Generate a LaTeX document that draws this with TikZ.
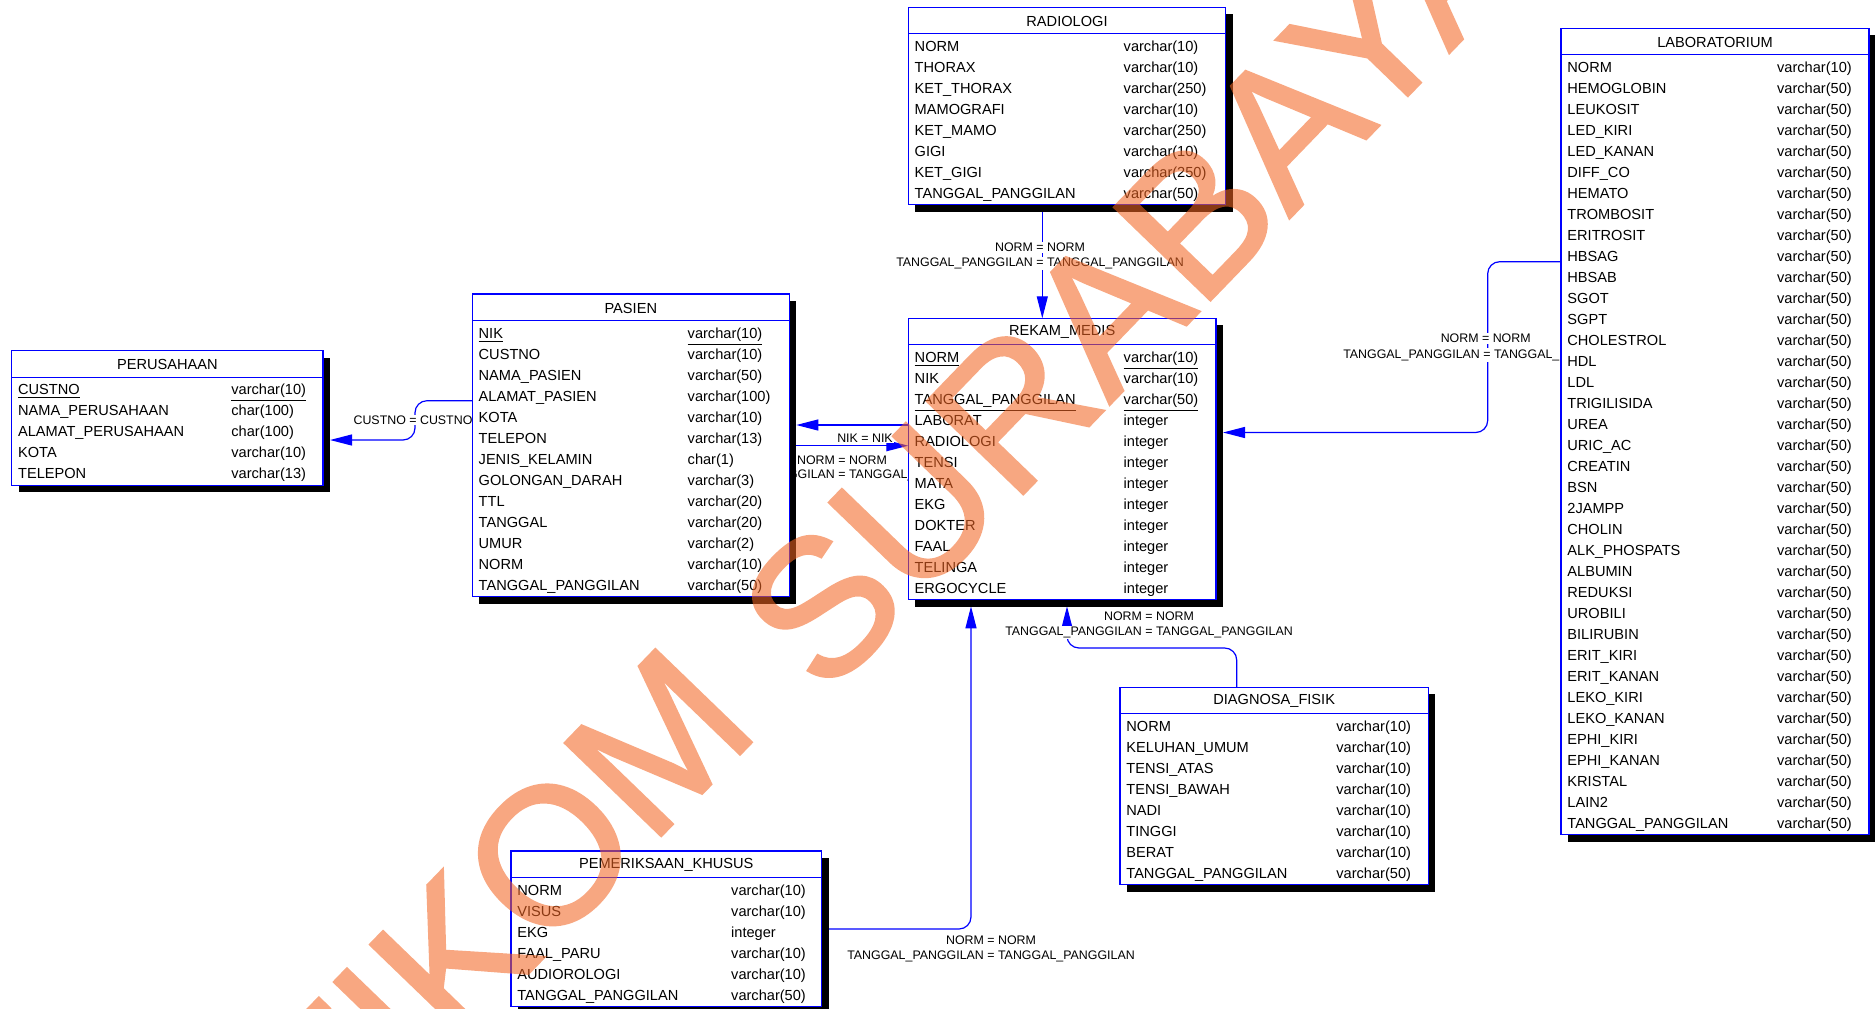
\documentclass[tikz,border=0pt]{standalone}
\usepackage{fontspec}
\setmainfont{Liberation Sans}
\newfontfamily\wmfont{Liberation Sans}[FakeBold=1.5]
\usetikzlibrary{arrows.meta,shadows,calc}
\definecolor{wm}{RGB}{242,101,34}
\tikzset{
  tbl/.style={draw=blue, line width=0.6pt, fill=white, inner sep=0pt, outer sep=0pt, anchor=north west,
    general shadow={fill=black, shadow xshift=3.5pt, shadow yshift=-3.5pt}},
  cell/.style={inner sep=0pt, anchor=base west, font=\fontsize{7.3}{8}\selectfont},
  ttl/.style={inner sep=0pt, font=\fontsize{7.3}{8}\selectfont},
  conn/.style={draw=blue, line width=0.6pt, rounded corners=6pt},
  arr/.style={-{Triangle[length=11pt,width=5.5pt]}},
  lbl/.style={fill=white, inner sep=0.5pt, font=\fontsize{6.2}{7}\selectfont},
  wmtext/.style={rotate=46, text=wm, inner sep=0pt, font=\wmfont\fontsize{97}{97}\selectfont},
}
% name, left, top, right, col2 x, rows count, title, rows
\newcommand{\ertable}[8]{%
  \node[tbl, minimum width={(#4-#2)*0.5pt}, minimum height={(29.5+21*#6)*0.5pt}] (#1) at (#2,#3) {};
  \draw[blue, line width=0.6pt] ([yshift=-13.25pt]#1.north west) -- ([yshift=-13.25pt]#1.north east);
  \node[ttl] (#1-title) at ([yshift=-7pt]#1.north) {#7};
  \foreach \nm/\ty [count=\i from 0] in {#8} {
    \node[cell] (#1-n\i) at (#2+6, #3+44.2+21*\i) {\nm};
    \node[cell] (#1-t\i) at (#5, #3+44.2+21*\i) {\ty};
  }
}
\begin{document}
\begin{tikzpicture}[x=0.5pt,y=-0.5pt]
\useasboundingbox (0,0) rectangle (1875,1008);

% ---------- connectors (drawn first, tables cover their ends) ----------
\coordinate (pasL) at (472.3,0);
\coordinate (perR) at (323,0);
\coordinate (rekL) at (908.3,0);
\coordinate (pasR) at (789.3,0);
\coordinate (radB) at (0,204.3);
\coordinate (rekT) at (0,318.3);
\coordinate (labL) at (1561,0);
\coordinate (rekR) at (1216,0);
\coordinate (diaT) at (0,687.3);
\coordinate (rekB) at (0,599.3);
\coordinate (pemR) at (821.5,0);

\draw[conn,arr] (pasL |- 0,400.7) -- (415,400.7) -- (415,440) -- ($(perR |- 0,440)+(7,0)$);
\node[lbl] (l1) at (413,420) {CUSTNO = CUSTNO};

\draw[conn,arr] (rekL |- 0,425) -- ($(pasR |- 0,425)+(7,0)$);
\draw[conn,arr] (pasR |- 0,445.7) -- (rekL |- 0,445.7);
\node[lbl] (l2) at (865,438) {NIK = NIK};
\node[lbl] (l3a) at (842,460) {NORM = NORM};
\node[lbl] (l3b) at (842,475) {TANGGAL\_PANGGILAN = TANGGAL\_PANGGILAN};

\draw[conn,arr] (radB -| 1042.3,0) -- (rekT -| 1042.3,0);
\node[lbl] (l4a) at (1040,247.3) {NORM = NORM};
\node[lbl] (l4b) at (1040,263.3) {TANGGAL\_PANGGILAN = TANGGAL\_PANGGILAN};

\draw[conn,arr] (labL |- 0,261.7) -- (1487.7,261.7) -- (1487.7,432.5) -- ($(rekR |- 0,432.5)+(7,0)$);
\node[lbl] (l5a) at (1485.7,338.3) {NORM = NORM};
\node[lbl] (l5b) at (1487,355) {TANGGAL\_PANGGILAN = TANGGAL\_PANGGILAN};

\draw[conn,arr] (diaT -| 1236.7,0) -- (1236.7,648) -- (1067,648) -- ($(rekB -| 1067,0)+(0,7)$);
\node[lbl] (l6a) at (1149,616) {NORM = NORM};
\node[lbl] (l6b) at (1149,632.5) {TANGGAL\_PANGGILAN = TANGGAL\_PANGGILAN};

\draw[conn,arr] (pemR |- 0,929) -- (971,929) -- ($(rekB -| 971,0)+(0,7)$);
\node[lbl] (l7a) at (991,940) {NORM = NORM};
\node[lbl] (l7b) at (991,956.7) {TANGGAL\_PANGGILAN = TANGGAL\_PANGGILAN};

% ---------- tables ----------
\ertable{perusahaan}{11.7}{350.7}{323}{231}{5}{PERUSAHAAN}{%
\underline{CUSTNO}/\underline{varchar(10)},NAMA\_PERUSAHAAN/char(100),ALAMAT\_PERUSAHAAN/char(100),KOTA/varchar(10),TELEPON/varchar(13)}

\ertable{pasien}{472.3}{294}{789.3}{687.3}{13}{PASIEN}{%
\underline{NIK}/\underline{varchar(10)},CUSTNO/varchar(10),NAMA\_PASIEN/varchar(50),ALAMAT\_PASIEN/varchar(100),KOTA/varchar(10),TELEPON/varchar(13),JENIS\_KELAMIN/char(1),GOLONGAN\_DARAH/varchar(3),TTL/varchar(20),TANGGAL/varchar(20),UMUR/varchar(2),NORM/varchar(10),TANGGAL\_PANGGILAN/varchar(50)}

\ertable{radiologi}{908.3}{7.3}{1225.7}{1123.3}{8}{RADIOLOGI}{%
NORM/varchar(10),THORAX/varchar(10),KET\_THORAX/varchar(250),MAMOGRAFI/varchar(10),KET\_MAMO/varchar(250),GIGI/varchar(10),KET\_GIGI/varchar(250),TANGGAL\_PANGGILAN/varchar(50)}

\ertable{rekam}{908.3}{318.3}{1216}{1123.3}{12}{REKAM\_MEDIS}{%
\underline{NORM}/\underline{varchar(10)},NIK/varchar(10),\underline{TANGGAL\_PANGGILAN}/\underline{varchar(50)},LABORAT/integer,RADIOLOGI/integer,TENSI/integer,MATA/integer,EKG/integer,DOKTER/integer,FAAL/integer,TELINGA/integer,ERGOCYCLE/integer}

\ertable{lab}{1561}{28.3}{1869}{1776.7}{37}{LABORATORIUM}{%
NORM/varchar(10),HEMOGLOBIN/varchar(50),LEUKOSIT/varchar(50),LED\_KIRI/varchar(50),LED\_KANAN/varchar(50),DIFF\_CO/varchar(50),HEMATO/varchar(50),TROMBOSIT/varchar(50),ERITROSIT/varchar(50),HBSAG/varchar(50),HBSAB/varchar(50),SGOT/varchar(50),SGPT/varchar(50),CHOLESTROL/varchar(50),HDL/varchar(50),LDL/varchar(50),TRIGILISIDA/varchar(50),UREA/varchar(50),URIC\_AC/varchar(50),CREATIN/varchar(50),BSN/varchar(50),2JAMPP/varchar(50),CHOLIN/varchar(50),ALK\_PHOSPATS/varchar(50),ALBUMIN/varchar(50),REDUKSI/varchar(50),UROBILI/varchar(50),BILIRUBIN/varchar(50),ERIT\_KIRI/varchar(50),ERIT\_KANAN/varchar(50),LEKO\_KIRI/varchar(50),LEKO\_KANAN/varchar(50),EPHI\_KIRI/varchar(50),EPHI\_KANAN/varchar(50),KRISTAL/varchar(50),LAIN2/varchar(50),TANGGAL\_PANGGILAN/varchar(50)}

\ertable{diagnosa}{1120}{687.3}{1428.3}{1336}{8}{DIAGNOSA\_FISIK}{%
NORM/varchar(10),KELUHAN\_UMUM/varchar(10),TENSI\_ATAS/varchar(10),TENSI\_BAWAH/varchar(10),NADI/varchar(10),TINGGI/varchar(10),BERAT/varchar(10),TANGGAL\_PANGGILAN/varchar(50)}

\ertable{pemeriksaan}{511}{851}{821.5}{730.8}{6}{PEMERIKSAAN\_KHUSUS}{%
NORM/varchar(10),VISUS/varchar(10),EKG/integer,FAAL\_PARU/varchar(10),AUDIOROLOGI/varchar(10),TANGGAL\_PANGGILAN/varchar(50)}

% ---------- watermark ----------
\begin{scope}[transparency group, opacity=0.57]
\node[wmtext] (wm1) at (456,952) {STIKOM};
\node[wmtext] (wm2) at (1134,283) {SURABAYA};
\end{scope}
\end{tikzpicture}
\end{document}
